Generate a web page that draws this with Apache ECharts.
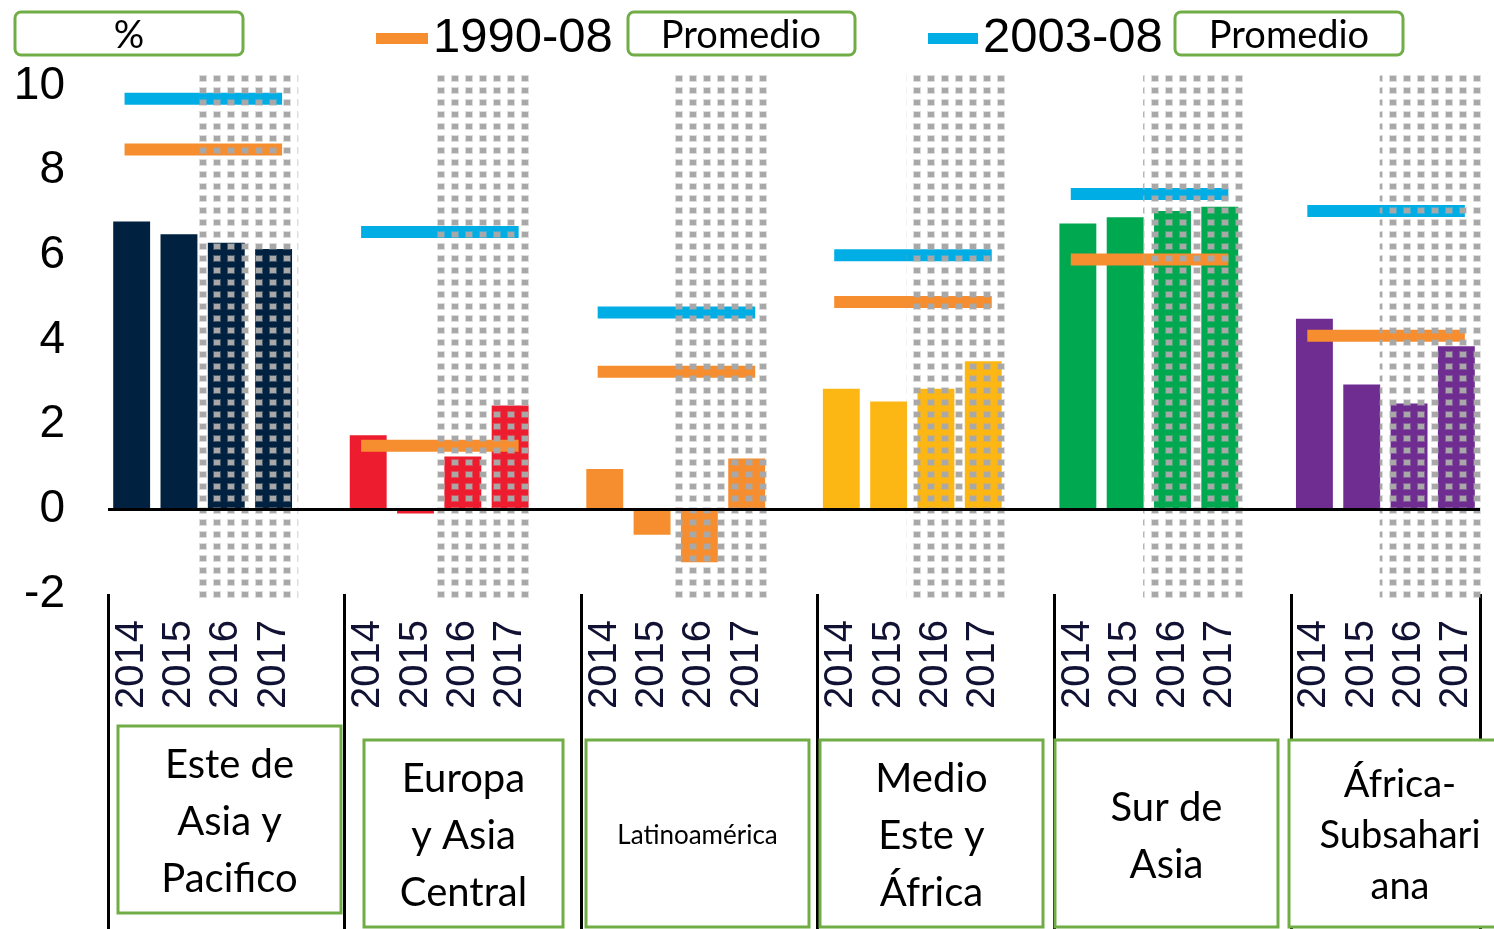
<!DOCTYPE html>
<html>
<head>
<meta charset="utf-8">
<title>Crecimiento por región</title>
<script src="https://cdn.jsdelivr.net/npm/echarts@6/dist/echarts.min.js"></script>
<style>
  html, body { margin: 0; padding: 0; background: #fff; }
  #chart { width: 1494px; height: 929px; }
</style>
</head>
<body>
<div id="chart"></div>
<script>
// data
const years = ["2014", "2015", "2016", "2017"];
const regions = [
  "Este de\nAsia y\nPacifico",
  "Europa\ny Asia\nCentral",
  "Latinoamérica",
  "Medio\nEste y\nÁfrica",
  "Sur de\nAsia",
  "África-\nSubsahari\nana"
];
const eastAsia = [6.8, 6.5, 6.3, 6.15];
const europeCentralAsia = [1.75, -0.1, 1.25, 2.45];
const latinAmerica = [0.95, -0.6, -1.25, 1.2];
const middleEastAfrica = [2.85, 2.55, 2.85, 3.5];
const southAsia = [6.75, 6.9, 7.05, 7.15];
const subSaharanAfrica = [4.5, 2.95, 2.5, 3.85];
const avg1990 = [8.5, 1.5, 3.25, 4.9, 5.9, 4.1];
const avg2003 = [9.7, 6.55, 4.65, 6.0, 7.45, 7.05];
const yTicks = [-2, 0, 2, 4, 6, 8, 10];

const groups = [eastAsia, europeCentralAsia, latinAmerica, middleEastAfrica, southAsia, subSaharanAfrica];
const groupColors = ["#00213F", "#ED1C2E", "#F68D2E", "#FDB714", "#00A84F", "#6F2C91"];
const SLOTS = 5; // 4 years + one empty slot between regions

const categories = [];
const barData = [];
groups.forEach(function (vals, g) {
  vals.forEach(function (v, i) {
    categories.push(years[i]);
    barData.push({ value: v, itemStyle: { color: groupColors[g] } });
  });
  if (g < groups.length - 1) {
    categories.push("");
    barData.push("-");
  }
});

// dotted tile for the forecast shading
const tile = document.createElement("canvas");
tile.width = 14;
tile.height = 12;
const tctx = tile.getContext("2d");
tctx.fillStyle = "rgba(170,170,170,0.4)";
tctx.fillRect(3, 3, 8, 7);
tctx.fillStyle = "#a8a8a8";
tctx.fillRect(4, 4, 6, 5);

function avgRender(params, api) {
  const s = api.coord([api.value(0), api.value(1)]);
  const e = api.coord([api.value(0) + 3, api.value(1)]);
  const band = api.size([1, 0])[0];
  const x0 = s[0] - 0.15 * band;
  const x1 = e[0] + 0.18 * band;
  return {
    type: "rect",
    shape: { x: x0, y: s[1] - 6, width: x1 - x0, height: 12 },
    style: { fill: api.visual("color") }
  };
}

function shadeRender(params, api) {
  const band = api.size([1, 0])[0];
  const tl = api.coord([api.value(0), 10.35]);
  const br = api.coord([api.value(0) + 1, -2.2]);
  const x0 = tl[0] - 0.62 * band;
  const x1 = br[0] + 0.52 * band;
  return {
    type: "rect",
    shape: { x: x0, y: tl[1], width: x1 - x0, height: br[1] - tl[1] },
    style: { fill: { image: tile, repeat: "repeat" } }
  };
}

const boxStroke = "#70AD47";
const graphics = [];
function box(x, y, w, h, r) {
  graphics.push({
    type: "rect", z: 100,
    shape: { x: x, y: y, width: w, height: h, r: r || 0 },
    style: { fill: "#fff", stroke: boxStroke, lineWidth: 3 }
  });
}
function label(x, y, text, size, lh) {
  graphics.push({
    type: "text", z: 101, x: x, y: y,
    style: {
      text: text, fontSize: size, fontFamily: "Lato", fill: "#000",
      align: "center", verticalAlign: "middle", lineHeight: lh || size * 1.2
    }
  });
}
box(15, 12, 228, 43, 6);
label(129, 36, "%", 38);
box(628, 12, 227, 43, 6);
label(741, 36, "Promedio", 38);
box(1175, 12, 228, 43, 6);
label(1289, 36, "Promedio", 38);

const regionBoxes = [
  [118, 726, 223, 187], [364, 740, 199, 187], [586, 740, 223, 187],
  [820, 740, 223, 187], [1055, 740, 223, 187], [1289, 740, 220, 187]
];
regionBoxes.forEach(function (b, g) {
  box(b[0], b[1], b[2], b[3]);
  const cx = g === 5 ? 1400 : b[0] + b[2] / 2;
  if (g === 2) label(cx, b[1] + b[3] / 2 + 2, regions[g], 26);
  else if (g === 5) label(cx, b[1] + b[3] / 2 + 2, regions[g], 38, 51);
  else label(cx, b[1] + b[3] / 2 + 3, regions[g], 40, 57);
});

const chart = echarts.init(document.getElementById("chart"));
chart.setOption({
  animation: false,
  textStyle: { fontFamily: "Liberation Sans" },
  grid: { left: 108, right: 14, top: 86, bottom: 335 },
  legend: [
    {
      left: 376, top: 14, padding: 0, itemWidth: 52, itemHeight: 11,
      data: [{ name: "1990-08", icon: "rect" }],
      textStyle: { fontSize: 49, color: "#000", fontFamily: "Liberation Sans" }
    },
    {
      left: 928, top: 14, padding: 0, itemWidth: 50, itemHeight: 11,
      data: [{ name: "2003-08", icon: "rect" }],
      textStyle: { fontSize: 49, color: "#000", fontFamily: "Liberation Sans" }
    }
  ],
  xAxis: {
    type: "category",
    data: categories,
    axisLine: { show: false, onZero: false },
    axisTick: {
      show: true,
      interval: function (i) { return i % SLOTS === 0; },
      length: 340,
      lineStyle: { color: "#000", width: 3 }
    },
    axisLabel: {
      interval: 0, rotate: 90, margin: 26, fontSize: 40,
      color: "#111133", fontFamily: "Liberation Sans"
    },
    splitLine: { show: false }
  },
  yAxis: {
    type: "value",
    min: yTicks[0],
    max: yTicks[yTicks.length - 1],
    interval: yTicks[1] - yTicks[0],
    axisLine: { show: false },
    axisTick: { show: false },
    splitLine: { show: false },
    axisLabel: { fontSize: 46, color: "#000", margin: 43, fontFamily: "Liberation Sans" }
  },
  series: [
    {
      type: "bar",
      name: "growth",
      data: barData,
      barWidth: "78%",
      z: 2,
      markLine: {
        silent: true,
        symbol: ["none", "none"],
        label: { show: false },
        lineStyle: { color: "#000", width: 3, type: "solid" },
        data: [{ yAxis: 0 }]
      }
    },
    {
      type: "custom",
      name: "1990-08",
      itemStyle: { color: "#F68D2E" },
      renderItem: avgRender,
      clip: false,
      z: 3,
      data: avg1990.map(function (v, g) { return [g * SLOTS, v]; })
    },
    {
      type: "custom",
      name: "2003-08",
      itemStyle: { color: "#00AEE5" },
      renderItem: avgRender,
      clip: false,
      z: 3,
      data: avg2003.map(function (v, g) { return [g * SLOTS, v]; })
    },
    {
      type: "custom",
      name: "shade",
      renderItem: shadeRender,
      clip: false,
      silent: true,
      z: 4,
      data: groups.map(function (vals, g) { return [g * SLOTS + 2, 0]; })
    }
  ],
  graphic: graphics
});
</script>
</body>
</html>
